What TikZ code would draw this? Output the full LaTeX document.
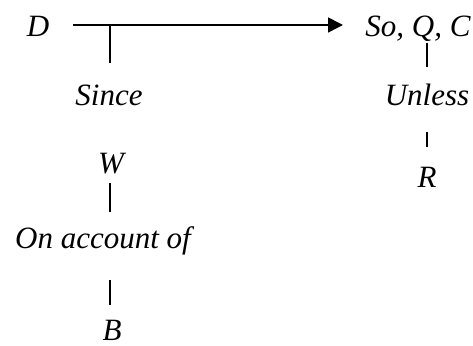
\documentclass[tikz,border=0pt]{standalone}
\usepackage{fontspec}
\setmainfont{Liberation Serif}
\usetikzlibrary{arrows.meta}
\begin{document}
\begin{tikzpicture}[x=1pt,y=-1pt,
  lbl/.style={anchor=base,inner sep=0pt,font=\fontsize{31}{36}\selectfont\itshape},
  conn/.style={line width=1.6pt}]
\useasboundingbox (0,0) rectangle (473,345);
\node[lbl] (D) at (38,37) {D};
\node[lbl] (C) at (418,37) {So, Q, C};
\node[lbl] (since) at (109,105) {Since};
\node[lbl] (unless) at (427,105) {Unless};
\node[lbl] (R) at (427,187) {R};
\node[lbl] (W) at (111,173) {W};
\node[lbl] (oao) at (103,248) {On account of};
\node[lbl,text depth=0pt] (B) at (112,340) {B};
\coordinate (h0) at (73,25);
\coordinate (h1) at (343,25);
\coordinate (j) at (110,25);
\coordinate (j1) at (110,63);
\coordinate (w0) at (110,183);
\coordinate (w1) at (110,212);
\coordinate (b0) at (110,280);
\coordinate (b1) at (110,305);
\coordinate (q0) at (427,43);
\coordinate (q1) at (427,67);
\coordinate (r0) at (427,132);
\coordinate (r1) at (427,147);
\draw[conn,-{Triangle[length=15pt,width=15pt]}] (h0) -- (h1);
\draw[conn] (j) -- (j1);
\draw[conn] (w0) -- (w1);
\draw[conn] (b0) -- (b1);
\draw[conn] (q0) -- (q1);
\draw[conn] (r0) -- (r1);
\end{tikzpicture}
\end{document}
